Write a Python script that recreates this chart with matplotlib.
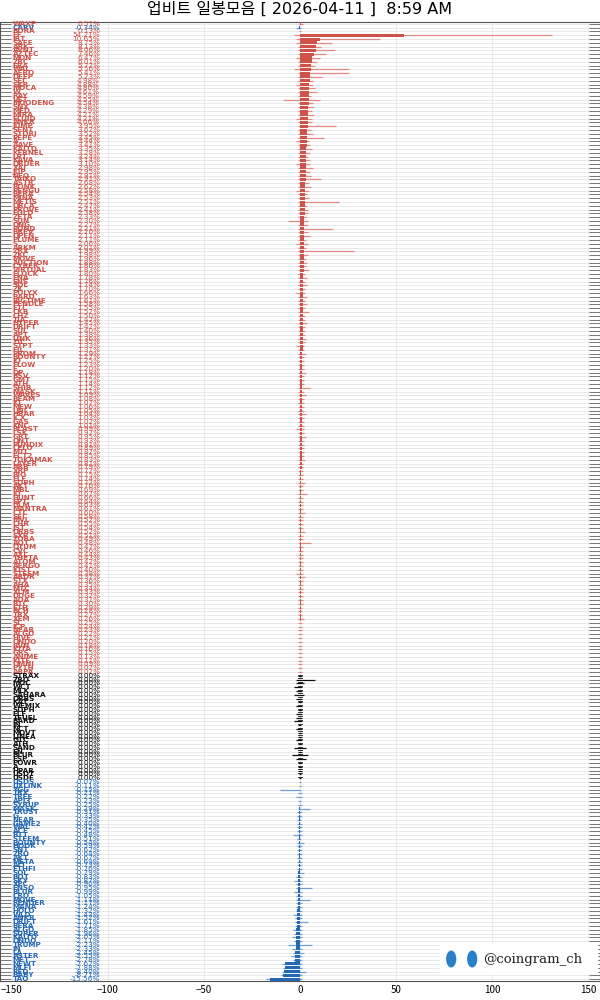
import matplotlib
matplotlib.use("Agg")
import matplotlib.pyplot as plt
from matplotlib.patches import Circle, FancyBboxPatch

plt.rcParams['font.family'] = ['Noto Sans CJK KR', 'DejaVu Sans']

title = "업비트 일봉모음 [ 2026-04-11 ]  8:59 AM"

top_names = ["WAXP", "CARV", "BORA"]
top_vals = [0.51, -0.34, 0.13]
top_up = [1, 0.5, 0.5]
top_dn = [0.5, 1.5, 0.5]

red_names = ["FF","IBT","SAFE","ARK","AVNT","AZTEC","MON","ZRC","ERA","WAL",
 "AERO","DEEP","SEI","SKR","MOCA","W","RAY","VET","MOODENG","SNX",
 "MED","MIRA","FLUID","ANKR","JUMP","SENT","STORJ","PEPE","A","AAVE",
 "KAITO","KERNEL","LPT","KAVA","ORDER","XAI","JUP","NEO","TAIKO","ASTR",
 "BONK","PENGU","BERA","MINA","METIS","ORCA","PROVE","EGLD","ZETA","SUN",
 "ONG","POND","BREV","OPEN","PLUME","S","ARKM","ZRX","ZKC","MOVE",
 "AUCTION","CYBER","VIRTUAL","FLOCK","ENA","ENS","SOL","ZK","POLYX","BARD",
 "BIGTIME","PENDLE","ETC","CKB","CHZ","TIA","HYPER","DRIFT","SUI","APT",
 "LINK","ZIL","STPT","FIL","PROM","BOUNTY","IQ","FLOW","F","OP",
 "BSV","GMT","ATH","SHIB","MASK","WAVES","BEAM","IO","MEW","UNI",
 "HBAR","ICX","GAS","KNC","BLAST","LSK","GRT","ONT","PUNDIX","CELO",
 "MTL","FCT2","TOKAMAK","LAYER","ARB","XRP","BIO","ELF","SOPH","AKT",
 "MBL","ID","HUNT","EPT","GLM","MANTRA","CTC","SEI","MVL","CHR",
 "JST","ORBS","SXP","ZORA","AQT","QTUM","CVC","AXL","THETA","ATOM",
 "AERGO","IOST","STEEM","ARDR","STX","AHA","MTC","XLM","DOGE","ADA",
 "BTC","ETH","BCH","TRX","XEM","SC","ICP","NEAR","ALGO","HIVE",
 "ONDO","RVN","IOTA","GRS","ANIME","KITE","OMNI","PYTH","ARPA"]
red_vals = [54.21,10.65,8.75,8.13,8.06,7.46,6.47,6.01,5.72,5.56,
 5.41,5.23,4.98,4.88,4.80,4.61,4.59,4.55,4.54,4.38,
 4.29,4.21,4.21,4.06,3.95,3.62,3.52,3.45,3.44,3.41,
 3.35,3.28,3.24,3.14,3.10,2.98,2.95,2.91,2.91,2.68,
 2.62,2.58,2.54,2.53,2.51,2.47,2.41,2.38,2.33,2.30,
 2.27,2.21,2.20,2.11,2.11,2.06,2.01,1.99,1.98,1.96,
 1.88,1.86,1.83,1.80,1.78,1.76,1.74,1.70,1.66,1.63,
 1.61,1.58,1.55,1.52,1.50,1.47,1.45,1.42,1.40,1.38,
 1.36,1.35,1.33,1.31,1.29,1.27,1.25,1.23,1.20,1.18,
 1.17,1.15,1.14,1.12,1.11,1.09,1.08,1.07,1.06,1.05,
 1.04,1.03,1.02,1.01,0.99,0.97,0.95,0.93,0.91,0.89,
 0.87,0.85,0.83,0.81,0.79,0.77,0.75,0.74,0.72,0.70,
 0.69,0.67,0.66,0.64,0.63,0.61,0.60,0.58,0.57,0.55,
 0.54,0.52,0.51,0.49,0.48,0.47,0.46,0.44,0.43,0.42,
 0.41,0.40,0.38,0.37,0.36,0.35,0.34,0.33,0.32,0.31,
 0.30,0.29,0.28,0.27,0.26,0.25,0.24,0.23,0.22,0.21,
 0.20,0.18,0.16,0.15,0.13,0.11,0.09,0.07,0.02]
red_up = [77,31,8,3,10,6,4,3,2,20, 20,6,2,2,3,4,1,6,2,3, 2,3,2,2,15,2,3,9,1,2,
 3,2,1,2,2,4,2,3,8,2, 3,2,1,2,18,1,2,2,1,2, 2,15,2,3,1,2,1,26,2,1,
 2,1,3,1,2,1,2,1,1,2, 1,2,1,3,1,1,2,1,1,1, 2,1,1,1,2,1,1,1,1,2,
 1,1,1,4,1,2,1,1,1,1, 2,1,1,1,1,1,2,1,1,1, 1,1,2,1,1,1,1,1,2,1,
 1,3,1,1,1,1,2,1,1,1, 1,2,1,1,5,1,1,1,1,1, 1,1,1,2,1,1,1,1,1,1,
 1,1,1,1,2,1,1,1,1,1, 1,1,1,1,1,1,1,1,1]
red_dn = [3,2,2,1,1,1,2,1,1,3, 1,1,1,2,1,1,1,9,1,1, 1,1,2,1,1,1,1,1,2,1,
 1,1,1,1,2,1,1,1,1,1, 1,2,1,1,1,1,1,1,1,6, 1,1,1,1,1,2,1,1,1,1,
 1,1,1,1,1,1,1,1,2,1, 1,1,1,1,1,1,1,1,1,1, 1,1,2,1,1,1,1,1,1,1,
 1,1,1,1,1,1,1,1,1,1, 1,1,1,1,2,1,1,1,1,1, 1,1,1,1,1,1,1,1,1,1,
 1,1,1,1,1,1,1,1,1,1, 1,1,1,1,1,1,1,1,1,1, 1,1,2,1,1,1,1,1,1,1,
 1,1,1,1,1,1,1,1,1,1, 1,1,1,1,1,1,1,1,1]

flat_names = ["STRAX","ZRO","MOC","WCT","MLK","SAHARA","ORBS","KAT","WEMIX","SOPH",
 "ELF","TFUEL","BARD","IN","NCT","MOVT","LINEA","GTC","ATH","SAND",
 "EN","BLUR","ESP","POWR","A","HPAR","USDT","USDE"]
flat_up = [1,8,2,1,1,2,1,1,1,1, 1,1,1,0.5,1,1,1,1,1,3, 1,4,3,1,1,1,0.3,0.3]
flat_dn = [1,2,2,3,2,3,2,1,2,1, 2,2,3,1,2,1,1,2,1,3, 1,4,2,1,1,1,0.3,0.3]

blue_names = ["USDS","UXLINK","YGG","TRX","TREE","API3","SYRUP","MASK","TRUST","G",
 "NEAR","GAME2","WAL","ACE","BTT","STEEM","BOUNTY","HOOK","SNT","ZRO",
 "AKT","META","ALT","ETHFI","SOL","BOT","SKY","XEC","ENSO","BLUR",
 "CRO","MOVE","RENDER","MANA","HOLO","WLD","ANKR","DRIFT","BERA","ALGO",
 "SUPER","KAITO","ONDO","TRUMP","IN","LA","ASTER","MET","NEWT","MLFI",
 "RED","BABY","TAO"]
blue_vals = [-0.07,-0.11,-0.15,-0.21,-0.22,-0.23,-0.25,-0.29,-0.31,-0.33,
 -0.35,-0.40,-0.42,-0.45,-0.48,-0.51,-0.54,-0.59,-0.62,-0.64,
 -0.67,-0.69,-0.73,-0.76,-0.79,-0.83,-0.87,-0.90,-0.95,-0.99,
 -1.05,-1.11,-1.17,-1.24,-1.32,-1.43,-1.52,-1.61,-1.71,-1.85,
 -1.96,-2.05,-2.11,-2.23,-2.33,-2.45,-2.55,-2.78,-7.62,-7.88,
 -8.40,-8.71,-15.56]
blue_up = [0.3,0.5,0.5,1,1,0.5,1,5,1,1, 0.5,1,1,1,1,0.5,2,1,1,1, 1,1,1,1,2,1,1,1,6,1,
 1,5,1,1,1,1,1,4,1,1, 1,1,1,6,1,2,1,1,1,1, 3,1,1]
blue_dn = [0.3,0.5,10,1,2,1,1,1,1,1, 1,1,1,1,3,1,1,1,1,1, 1,1,1,1,1,1,2,1,1,2,
 1,1,1,1,1,2,1,1,1,2, 1,2,1,4,2,1,2,1,2,1, 1,1,2]

names = top_names + red_names + flat_names + blue_names
vals = top_vals + red_vals + [0.0] * len(flat_names) + blue_vals
ups = top_up + red_up + flat_up + blue_up
dns = top_dn + red_dn + flat_dn + blue_dn
n = len(names)

RED = "#cf5249"
RED_W = "#e08a84"
BLUE = "#2468b4"
BLUE_W = "#6f9fd6"
BLACK = "#111111"

fig = plt.figure(figsize=(6, 10), dpi=100)
ax = fig.add_axes([0.0, 0.019, 1.0, 0.959])
ax.set_xlim(-156, 156)
ax.set_ylim(n - 0.5, -0.5)

for i, (nm, v, u, d) in enumerate(zip(names, vals, ups, dns)):
    if v > 0:
        c, cw = RED, RED_W
    elif v < 0:
        c, cw = BLUE, BLUE_W
    else:
        c, cw = BLACK, BLACK
    hi = max(v, 0) + u
    lo = min(v, 0) - d
    ax.plot([lo, hi], [i, i], color=cw, lw=0.9, solid_capstyle='butt', zorder=2)
    if v != 0:
        ax.barh(i, v, height=0.8, color=c, zorder=3, linewidth=0)
    else:
        ax.plot([-0.8, 0.8], [i - 0.35, i - 0.35], color=BLACK, lw=0.6, zorder=3)
    ax.text(-149.5, i, nm, color=c, fontsize=5.2, fontweight='bold',
            va='center', ha='left', family=['DejaVu Sans'], zorder=4)
    ax.text(-104, i, f"{v:.2f}%", color=c, fontsize=5.2,
            va='center', ha='right', family=['DejaVu Sans'], zorder=4)

ax.set_yticks(range(n))
ax.set_yticklabels([])
ax.tick_params(axis='y', direction='in', length=8, color='#666666', width=0.6,
               left=True, right=True)
ax.set_xticks([-150, -100, -50, 0, 50, 100, 150])
ax.tick_params(axis='x', labelsize=7, length=0, pad=3)
ax.grid(True, color='#e2e2e2', lw=0.5, zorder=0)
ax.set_axisbelow(True)
for s in ax.spines.values():
    s.set_color('#555555')
    s.set_linewidth(0.8)

fig.text(0.5, 0.991, title, ha='center', va='center', fontsize=11.5,
         family=['DejaVu Sans', 'Noto Sans CJK KR'])

# watermark
box = FancyBboxPatch((0.735, 0.027), 0.26, 0.028, boxstyle="round,pad=0.002",
                     transform=fig.transFigure, facecolor='white', edgecolor='none',
                     lw=0.5, zorder=10)
fig.patches.append(box)
for cx in (0.752, 0.787):
    fig.patches.append(Circle((cx, 0.041), 0.0085, transform=fig.transFigure,
                              facecolor='#2a7fc9', edgecolor='none', zorder=11))
fig.text(0.805, 0.041, "@coingram_ch", fontsize=9.5, va='center', ha='left',
         family=['DejaVu Serif'], color='#222222', zorder=12)

fig.savefig("out.png", dpi=100)
